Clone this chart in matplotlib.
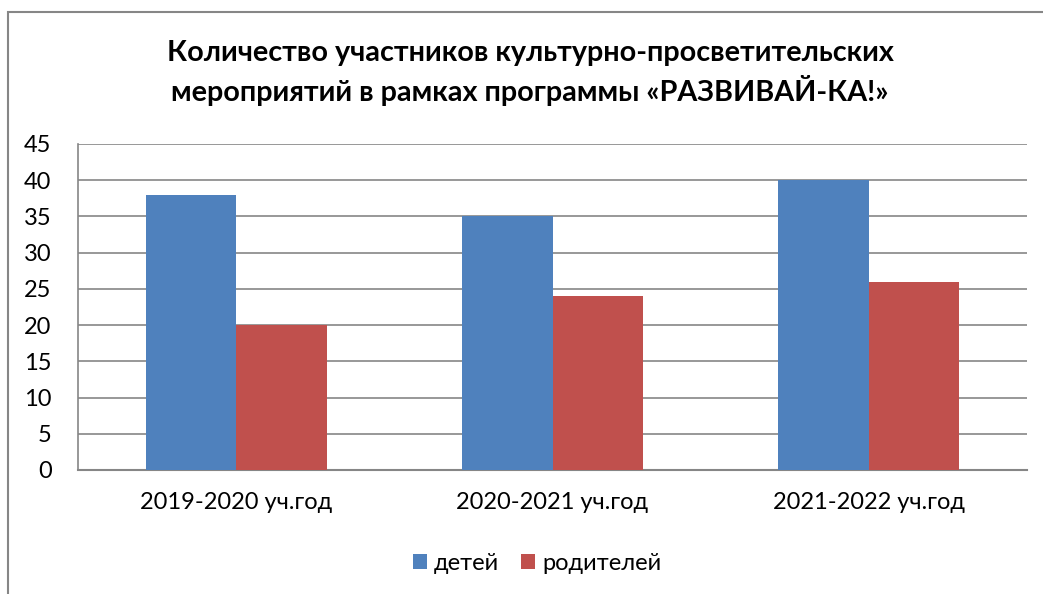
import matplotlib
matplotlib.use("Agg")
import matplotlib.pyplot as plt
from matplotlib.patches import Rectangle
import numpy as np

categories = ["2019-2020 уч.год", "2020-2021 уч.год", "2021-2022 уч.год"]
children = [38, 35, 40]
parents = [20, 24, 26]
series_names = ["детей", "родителей"]
title = "Количество участников культурно-просветительских\nмероприятий в рамках программы «РАЗВИВАЙ-КА!»"

plt.rcParams['font.family'] = ['Lato', 'DejaVu Sans']

W, H = 1043, 594
fig = plt.figure(figsize=(W/100, H/100), dpi=100)

# outer frame
fig.patches.append(Rectangle((8/W, -0.1), 1.2, (H-12)/H + 0.1, transform=fig.transFigure,
                             fill=False, edgecolor="#868686", linewidth=1.5))

left, right, top, bottom = 78, 1027, 144, 470
ax = fig.add_axes([left/W, 1-bottom/H, (right-left)/W, (bottom-top)/H])

x = np.arange(len(categories))
bw = 1/3.5
ax.bar(x - bw/2, children, bw, color="#4F81BD", label=series_names[0], zorder=3)
ax.bar(x + bw/2, parents, bw, color="#C0504D", label=series_names[1], zorder=3)

ax.set_xlim(-0.5, 2.5)
ax.set_ylim(0, 45)
ax.set_yticks(range(0, 46, 5))
ax.set_xticks(x)
ax.set_xticklabels(categories)
ax.tick_params(axis='both', length=0, labelsize=17, colors="black")
ax.tick_params(axis='y', pad=19)
ax.tick_params(axis='x', pad=16)
ax.yaxis.grid(True, color="#868686", linewidth=1.2, zorder=0)
ax.set_axisbelow(True)
for s in ["top", "right"]:
    ax.spines[s].set_visible(False)
ax.spines["left"].set_color("#868686")
ax.spines["bottom"].set_color("#868686")
ax.spines["left"].set_linewidth(1.2)
ax.spines["bottom"].set_linewidth(1.5)

fig.text(530/W, 1-73/H, title, ha="center", va="center", fontsize=20.7, fontweight="bold",
         linespacing=1.38)

fig.legend(loc="center", bbox_to_anchor=(537/W, 1-563/H), ncol=2, frameon=False,
           fontsize=17, handlelength=0.6, handleheight=0.6, handletextpad=0.3, columnspacing=0.9)

fig.savefig("out.png", dpi=100)
